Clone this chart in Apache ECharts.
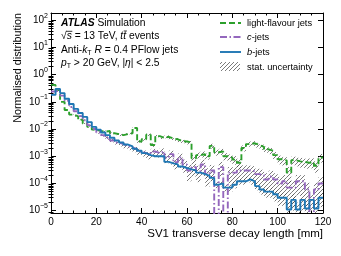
<!DOCTYPE html>
<html><head><meta charset="utf-8">
<script src="https://cdn.jsdelivr.net/npm/echarts@6/dist/echarts.min.js"></script>
<style>html,body{margin:0;padding:0;background:#fff}#c{width:341px;height:256px}</style>
</head><body><div id="c"></div>
<script>
// ---- data (2 mm bins, SV1 transverse decay length) ----
const binEdges = [0,2,4,6,8,10,12,14,16,18,20,22,24,26,28,30,32,34,36,38,40,42,44,46,48,50,52,54,56,58,60,62,64,66,68,70,72,74,76,78,80,82,84,86,88,90,92,94,96,98,100,102,104,106,108,110,112,114,116,118,120];
const lightJets = [0.42,0.27,0.10,0.050,0.034,0.029,0.022,0.016,0.012,0.0095,
 0.0085,0.0080,0.0085,0.0070,0.0065,0.0060,0.0065,0.0070,0.011,0.0035,
 0.0042,0.0062,0.0026,0.0055,0.0048,0.0052,0.0045,0.0042,0.0036,0.0035,
 0.0032,0.00085,0.0011,0.0012,0.0010,0.0024,0.0014,0.0015,0.0010,0.0009,
 0.00075,0.00058,0.0020,0.0028,0.0030,0.0026,0.0022,0.0018,0.0016,0.0011,
 0.00078,0.00070,0.00025,0.00072,0.00065,0.00062,0.00058,0.00060,0.00045,0.00090];
const cJets = [0.24,0.27,0.17,0.11,0.065,0.045,0.030,0.021,0.014,0.010,
 0.0075,0.0060,0.0047,0.0038,0.0032,0.0028,0.0024,0.0021,0.0018,0.0015,
 0.0013,0.0011,0.0015,0.0013,0.0015,0.0009,0.0012,0.0006,0.0009,0.0005,
 0.0003,0.0004,0.00028,0.0005,0.00022,0.0003,1e-7,0.0004,1e-7,0.00025,
 0.00025,0.0003,0.0003,0.0003,0.00028,0.00022,0.0002,0.00014,0.00018,0.00014,
 0.0001,0.00012,0.00007,0.00007,0.00012,0.00012,0.00006,1e-7,0.00006,0.0001];
const bJets = [0.18,0.30,0.21,0.13,0.083,0.055,0.039,0.028,0.018,0.012,
 0.0095,0.0075,0.0060,0.0048,0.0038,0.0032,0.0027,0.0023,0.0019,0.0016,
 0.0013,0.0011,0.0010,0.0010,0.0010,0.00062,0.00055,0.00050,0.00042,0.00037,
 0.00033,0.00030,0.00025,0.00022,0.00019,0.00016,0.00009,0.00010,0.00007,0.00007,
 0.00009,0.00012,0.00012,0.00014,0.00012,0.00008,0.00006,0.00005,0.00005,0.00004,
 0.00003,0.00003,0.000011,0.000025,0.000011,0.000025,0.000012,0.000025,0.000012,0.00003];
// relative statistical uncertainties per bin
const lightErr = [0.01,0.01,0.02,0.02,0.03,0.03,0.03,0.04,0.05,0.05,
 0.06,0.06,0.06,0.07,0.08,0.08,0.08,0.08,0.07,0.12,
 0.12,0.10,0.15,0.10,0.10,0.12,0.12,0.12,0.14,0.14,
 0.15,0.30,0.25,0.25,0.25,0.20,0.25,0.25,0.30,0.30,
 0.35,0.40,0.25,0.20,0.20,0.20,0.22,0.25,0.25,0.30,
 0.35,0.35,0.60,0.35,0.35,0.40,0.40,0.40,0.45,0.35];
const cErr = [0.01,0.01,0.02,0.02,0.03,0.04,0.05,0.06,0.07,0.08,
 0.10,0.12,0.14,0.15,0.16,0.18,0.20,0.20,0.22,0.25,
 0.25,0.30,0.25,0.30,0.30,0.35,0.35,0.45,0.40,0.50,
 0.60,0.55,0.60,0.50,0.65,0.60,1.00,0.55,1.00,0.60,
 0.60,0.55,0.55,0.55,0.55,0.60,0.60,0.70,0.65,0.70,
 0.75,0.70,0.80,0.80,0.70,0.70,0.80,1.00,0.80,0.70];
const bErr = [0.01,0.01,0.01,0.01,0.01,0.02,0.02,0.02,0.02,0.03,
 0.03,0.03,0.04,0.04,0.05,0.05,0.05,0.06,0.06,0.07,
 0.07,0.08,0.08,0.08,0.08,0.10,0.10,0.11,0.12,0.12,
 0.13,0.13,0.15,0.15,0.16,0.17,0.25,0.22,0.27,0.30,
 0.27,0.25,0.25,0.22,0.25,0.30,0.35,0.40,0.40,0.45,
 0.50,0.50,0.80,0.60,0.80,0.60,0.80,0.60,0.80,0.55];
const yTickValues = [1e-5,1e-4,1e-3,1e-2,1e-1,1,10,100];
const xTickInterval = 20;

// ---- setup ----
const Y_MIN = 8.2e-6, Y_MAX = 185;
const FONT = '"Liberation Sans", Arial, Helvetica, sans-serif';
const TXT = 10.3, LEG = 9.3;
const colLight = '#2ca02c', colC = '#9467bd', colB = '#1f77b4';

const yMinor = [];
for (let n = -6; n <= 2; n++) for (let k = 2; k <= 9; k++) { const v = k * Math.pow(10, n); if (v > Y_MIN && v < Y_MAX) yMinor.push(v); }

const hatch = document.createElement('canvas');
hatch.width = 4; hatch.height = 4;
(function(){ const g = hatch.getContext('2d'); g.strokeStyle = 'rgba(70,70,70,0.9)'; g.lineWidth = 0.8;
  g.beginPath(); g.moveTo(0,4); g.lineTo(4,0); g.moveTo(-2,2); g.lineTo(2,-2); g.moveTo(2,6); g.lineTo(6,2); g.stroke(); })();
const hatchFill = { image: hatch, repeat: 'repeat' };

// text measurement for overbars (sqrt bar over s, bar over t)
const mctx = document.createElement('canvas').getContext('2d');
function tw(s, italic) { mctx.font = (italic ? 'italic ' : '') + TXT + 'px ' + FONT; return mctx.measureText(s).width; }
const X0 = 61;
const wRad = tw('\u221A'), wS = tw('s', true);
const wPre = wRad + wS + tw(' = 13 TeV, ') + tw('t', true);
const wT = tw('t', true);

function stepData(vals) {
  const d = vals.map((v, i) => [binEdges[i], v]);
  d.push([binEdges[vals.length], vals[vals.length - 1]]);
  return d;
}
function bandData(vals, errs) {
  const out = [];
  vals.forEach((v, i) => {
    const hi = v * (1 + errs[i]);
    if (hi <= Y_MIN) return;
    out.push([binEdges[i], binEdges[i + 1], Math.max(v * (1 - errs[i]), Y_MIN), hi]);
  });
  return out;
}
function bandSeries(vals, errs) {
  return {
    type: 'custom', name: 'stat. uncertainty', clip: true, silent: true, z: 1,
    encode: { x: [0, 1], y: [2, 3] },
    data: bandData(vals, errs),
    renderItem: (params, api) => {
      const p0 = api.coord([api.value(0), api.value(3)]);
      const p1 = api.coord([api.value(1), api.value(2)]);
      return { type: 'rect', shape: { x: p0[0], y: p0[1], width: p1[0] - p0[0], height: p1[1] - p0[1] }, style: { fill: hatchFill } };
    }
  };
}
function lineSeries(name, vals, color, dash) {
  return { type: 'line', name, step: 'end', data: stepData(vals), showSymbol: false, symbol: 'none', z: 3,
    lineStyle: { color, width: 1.9, type: dash }, clip: true, animation: false };
}

const axLine = { show: true, onZero: false, lineStyle: { color: '#000', width: 1 } };
const xCommon = { type: 'value', min: 0, max: 120, interval: xTickInterval, splitLine: { show: false }, axisLine: axLine,
  axisTick: { inside: true, length: 5, lineStyle: { color: '#000' } },
  minorTick: { show: true, splitNumber: 4, length: 2.5, lineStyle: { color: '#000' } } };
const yCommon = { type: 'log', logBase: 10, min: Y_MIN, max: Y_MAX, splitLine: { show: false }, axisLine: axLine };

const rt = { n: { fontFamily: FONT, fontSize: TXT, lineHeight: 13 }, i: { fontFamily: FONT, fontSize: TXT, fontStyle: 'italic', lineHeight: 13 },
  sub: { fontFamily: FONT, fontSize: 7, verticalAlign: 'bottom' } };

const chart = echarts.init(document.getElementById('c'), null, { renderer: 'canvas' });
chart.setOption({
  animation: false,
  backgroundColor: '#fff',
  grid: { left: 51, right: 18, top: 13, bottom: 43 },
  xAxis: [
    Object.assign({}, xCommon, { position: 'bottom',
      name: 'SV1 transverse decay length [mm]', nameLocation: 'end', nameGap: 0, nameMoveOverlap: false,
      nameTextStyle: { fontFamily: FONT, fontSize: 11.5, color: '#000', align: 'right', verticalAlign: 'top', padding: [15, 0, 0, 0] },
      axisLabel: { fontFamily: FONT, fontSize: 10, color: '#000', margin: 4 } }),
    Object.assign({}, xCommon, { position: 'top', axisLabel: { show: false } })
  ],
  yAxis: [
    Object.assign({}, yCommon, { position: 'left',
      name: 'Normalised distribution', nameLocation: 'end', nameGap: 0, nameRotate: 90, nameMoveOverlap: false,
      nameTextStyle: { fontFamily: FONT, fontSize: 10.8, color: '#000', align: 'right', verticalAlign: 'bottom', padding: [0, 0, 27, 0] },
      axisTick: { inside: true, length: 5, customValues: yTickValues, lineStyle: { color: '#000' } },
      axisLabel: { customValues: yTickValues, margin: 3, color: '#000',
        formatter: v => '{b|10}{s|' + String(Math.round(Math.log10(v))).replace('-', '\u2212') + '}',
        rich: { b: { fontFamily: FONT, fontSize: 10, lineHeight: 16, color: '#000' }, s: { fontFamily: FONT, fontSize: 7, verticalAlign: 'top', color: '#000' } } } }),
    Object.assign({}, yCommon, { position: 'left', axisLine: { show: false },
      axisTick: { inside: true, length: 2.5, customValues: yMinor, lineStyle: { color: '#000' } }, axisLabel: { show: false } }),
    Object.assign({}, yCommon, { position: 'right',
      axisTick: { inside: true, length: 5, customValues: yTickValues, lineStyle: { color: '#000' } }, axisLabel: { show: false } }),
    Object.assign({}, yCommon, { position: 'right', axisLine: { show: false },
      axisTick: { inside: true, length: 2.5, customValues: yMinor, lineStyle: { color: '#000' } }, axisLabel: { show: false } })
  ],
  series: [
    bandSeries(lightJets, lightErr),
    bandSeries(cJets, cErr),
    bandSeries(bJets, bErr),
    lineSeries('light-flavour jets', lightJets, colLight, [6, 3]),
    lineSeries('c-jets', cJets, colC, [7, 2.5, 1.5, 2.5]),
    lineSeries('b-jets', bJets, colB, 'solid')
  ],
  graphic: [
    { type: 'text', x: X0, y: 23, style: { text: '{a|ATLAS}{n| Simulation}', fontFamily: FONT, fontSize: TXT, fill: '#000', verticalAlign: 'middle',
      rich: { a: { fontFamily: FONT, fontSize: TXT, fontWeight: 'bold', fontStyle: 'italic' }, n: { fontFamily: FONT, fontSize: TXT } } } },
    { type: 'text', x: X0, y: 36.5, style: { text: '{n|\u221A}{i|s}{n| = 13 TeV, }{i|tt}{n| events}', fontFamily: FONT, fontSize: TXT, fill: '#000', verticalAlign: 'middle', rich: rt } },
    { type: 'line', shape: { x1: X0 + wRad - 0.5, y1: 31.3, x2: X0 + wRad + wS + 0.5, y2: 31.3 }, style: { stroke: '#000', lineWidth: 0.8 } },
    { type: 'line', shape: { x1: X0 + wPre + 0.5, y1: 31.0, x2: X0 + wPre + wT + 0.8, y2: 31.0 }, style: { stroke: '#000', lineWidth: 0.8 } },
    { type: 'text', x: X0, y: 50, style: { text: '{n|Anti-}{i|k}{sub|T}{n| }{i|R}{n| = 0.4 PFlow jets}', fontFamily: FONT, fontSize: TXT, fill: '#000', verticalAlign: 'middle', rich: rt } },
    { type: 'text', x: X0, y: 63.5, style: { text: '{i|p}{sub|T}{n| > 20 GeV, |}{i|\u03B7}{n|| < 2.5}', fontFamily: FONT, fontSize: TXT, fill: '#000', verticalAlign: 'middle', rich: rt } },
    // legend
    { type: 'line', shape: { x1: 220, y1: 23, x2: 241, y2: 23 }, style: { stroke: colLight, lineWidth: 1.9, lineDash: [6, 3] } },
    { type: 'line', shape: { x1: 220, y1: 37, x2: 241, y2: 37 }, style: { stroke: colC, lineWidth: 1.9, lineDash: [7, 2.5, 1.5, 2.5] } },
    { type: 'line', shape: { x1: 220, y1: 52, x2: 241, y2: 52 }, style: { stroke: colB, lineWidth: 1.9 } },
    { type: 'rect', shape: { x: 220, y: 62, width: 20, height: 9 }, style: { fill: hatchFill } },
    { type: 'text', x: 247, y: 23, style: { text: 'light-flavour jets', fontFamily: FONT, fontSize: LEG, fill: '#000', verticalAlign: 'middle' } },
    { type: 'text', x: 247, y: 37, style: { text: '{i|c}-jets', fontFamily: FONT, fontSize: LEG, fill: '#000', verticalAlign: 'middle', rich: { i: { fontFamily: FONT, fontSize: LEG, fontStyle: 'italic' } } } },
    { type: 'text', x: 247, y: 52, style: { text: '{i|b}-jets', fontFamily: FONT, fontSize: LEG, fill: '#000', verticalAlign: 'middle', rich: { i: { fontFamily: FONT, fontSize: LEG, fontStyle: 'italic' } } } },
    { type: 'text', x: 247, y: 67, style: { text: 'stat. uncertainty', fontFamily: FONT, fontSize: LEG, fill: '#000', verticalAlign: 'middle' } }
  ]
});
</script>
</body></html>
